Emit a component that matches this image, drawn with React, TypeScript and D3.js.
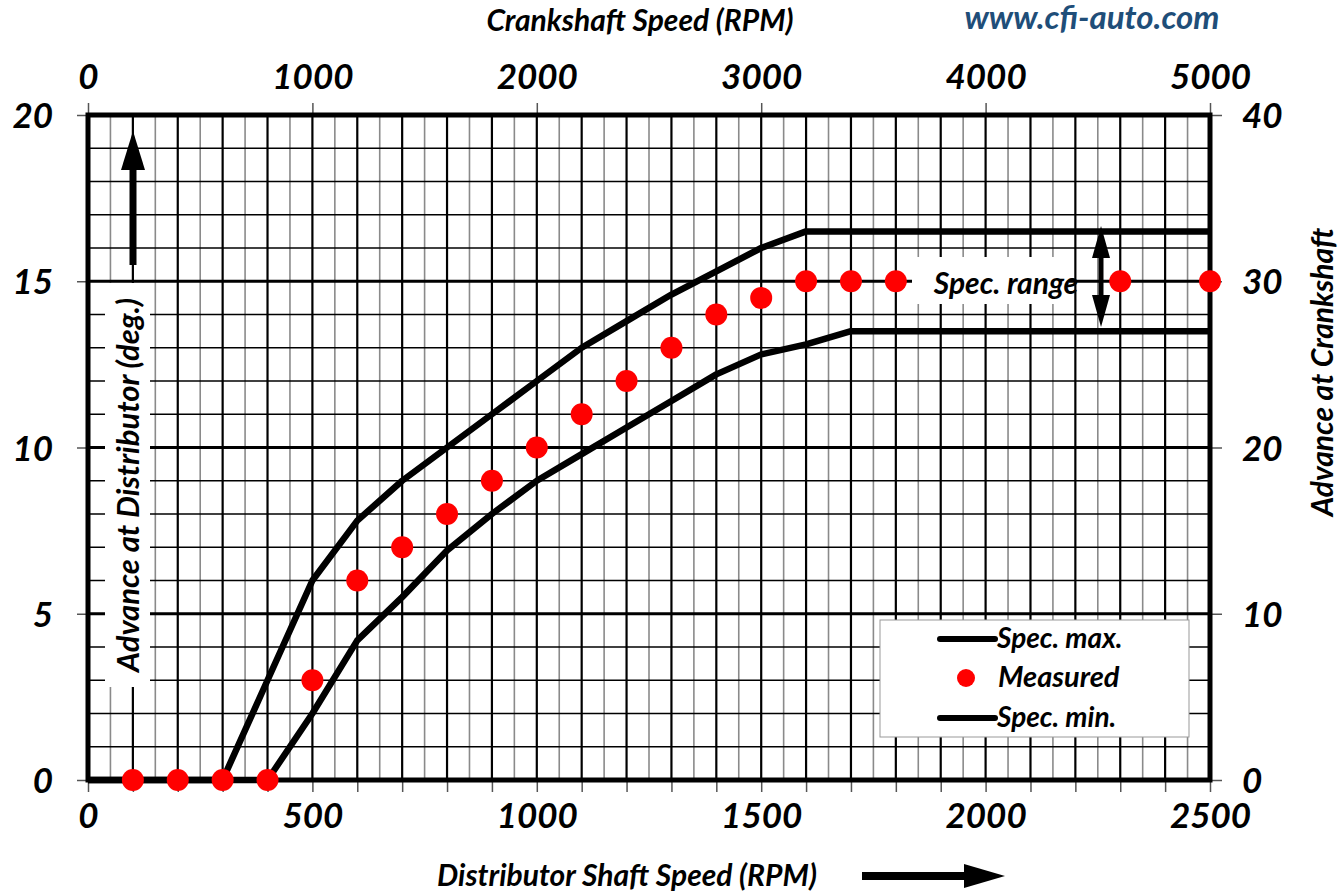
import { useRef, useEffect } from "react";
import * as d3 from "d3";

// distributor rpm vs advance (deg at distributor)
const specMaxRpm = [0, 300, 400, 500, 600, 700, 800, 900, 1000, 1100, 1200, 1300, 1400, 1500, 1600, 2500];
const specMaxDeg = [0, 0, 3, 6, 7.8, 9, 10, 11, 12, 13, 13.8, 14.6, 15.3, 16, 16.5, 16.5];
const specMinRpm = [0, 400, 500, 600, 700, 800, 900, 1000, 1100, 1200, 1300, 1400, 1500, 1600, 1700, 2500];
const specMinDeg = [0, 0, 2, 4.2, 5.5, 6.9, 8, 9, 9.8, 10.6, 11.4, 12.2, 12.8, 13.1, 13.5, 13.5];
const measuredRpm = [100, 200, 300, 400, 500, 600, 700, 800, 900, 1000, 1100, 1200, 1300, 1400, 1500, 1600, 1700, 1800, 2300, 2500];
const measuredDeg = [0, 0, 0, 0, 3, 6, 7, 8, 9, 10, 11, 12, 13, 14, 14.5, 15, 15, 15, 15, 15];

const distTicks = [0, 500, 1000, 1500, 2000, 2500];
const crankTicks = [0, 1000, 2000, 3000, 4000, 5000];
const distAdvTicks = [0, 5, 10, 15, 20];
const crankAdvTicks = [0, 10, 20, 30, 40];

const FONT = "Lato, 'Open Sans', sans-serif";
const W = 1339;
const H = 894;
const MARGIN = { top: 115, right: 129, bottom: 114, left: 88 };

export default function App() {
  const bottomRef = useRef(null);
  const topRef = useRef(null);
  const leftRef = useRef(null);
  const rightRef = useRef(null);

  const x = d3.scaleLinear().domain([0, 2500]).range([MARGIN.left, W - MARGIN.right]);
  const xc = d3.scaleLinear().domain([0, 5000]).range([MARGIN.left, W - MARGIN.right]);
  const y = d3.scaleLinear().domain([0, 20]).range([H - MARGIN.bottom, MARGIN.top]);
  const yc = d3.scaleLinear().domain([0, 40]).range([H - MARGIN.bottom, MARGIN.top]);

  const x0 = x(0), x1 = x(2500), y0 = y(0), y1 = y(20);

  useEffect(() => {
    const style = (g: any) => {
      g.select(".domain").remove();
      g.selectAll(".tick line").attr("stroke", "#555").attr("stroke-width", 1.5);
      g.selectAll("text")
        .attr("font-family", FONT)
        .attr("font-weight", "bold")
        .attr("font-style", "italic")
        .attr("font-size", 35)
        .attr("fill", "#000");
    };

    const b = d3.select(bottomRef.current);
    b.selectAll("*").remove();
    b.call(
      d3.axisBottom(x)
        .tickValues(d3.range(0, 2501, 100))
        .tickSize(12)
        .tickFormat((d: any) => (distTicks.includes(+d) ? String(d) : ""))
    ).call(style);
    b.selectAll("text").attr("y", 48).attr("dy", 0);

    const t = d3.select(topRef.current);
    t.selectAll("*").remove();
    t.call(d3.axisTop(xc).tickValues(crankTicks).tickSize(12).tickFormat((d: any) => String(d))).call(style);
    t.selectAll("text").attr("y", -26).attr("dy", 0);

    const l = d3.select(leftRef.current);
    l.selectAll("*").remove();
    l.call(d3.axisLeft(y).tickValues(distAdvTicks).tickSize(11)).call(style);
    l.selectAll("text").attr("x", -35).attr("dy", "0.36em");

    const r = d3.select(rightRef.current);
    r.selectAll("*").remove();
    r.call(d3.axisRight(yc).tickValues(crankAdvTicks).tickSize(12)).call(style);
    r.selectAll("text").attr("x", 32).attr("dy", "0.36em");
  }, [x, xc, y, yc]);

  const line = d3
    .line<[number, number]>()
    .x((d) => x(d[0]))
    .y((d) => y(d[1]));

  const specMax = specMaxRpm.map((r, i) => [r, specMaxDeg[i]] as [number, number]);
  const specMin = specMinRpm.map((r, i) => [r, specMinDeg[i]] as [number, number]);

  const vGrid = d3.range(50, 2500, 50);
  const hGrid = d3.range(1, 20, 1);

  const txt = { fontFamily: FONT, fontWeight: "bold" as const, fontStyle: "italic" as const };

  return (
    <div style={{ position: "absolute", left: 0, top: 0, background: "#fff" }}>
      <svg width={W} height={H} viewBox={`0 0 ${W} ${H}`}>
        <rect width={W} height={H} fill="#fff" />

        {/* grid */}
        {vGrid.map((v) => (
          <line
            key={"v" + v}
            x1={x(v)}
            x2={x(v)}
            y1={y1}
            y2={y0}
            stroke={v % 100 === 0 ? "#000" : "#8a8a8a"}
            strokeWidth={v % 100 === 0 ? 2.2 : 1.6}
          />
        ))}
        {hGrid.map((v) => (
          <line
            key={"h" + v}
            x1={x0}
            x2={x1}
            y1={y(v)}
            y2={y(v)}
            stroke="#000"
            strokeWidth={v % 5 === 0 ? 3 : 1.5}
          />
        ))}

        {/* white label boxes */}
        <rect x={105} y={283} width={45} height={404} fill="#fff" />
        <rect x={912} y={257} width={157} height={47} fill="#fff" />

        {/* axes */}
        <g ref={bottomRef} transform={`translate(0,${y0})`} />
        <g ref={topRef} transform={`translate(0,${y1})`} />
        <g ref={leftRef} transform={`translate(${x0},0)`} />
        <g ref={rightRef} transform={`translate(${x1},0)`} />

        {/* frame */}
        <rect x={x0} y={y1} width={x1 - x0} height={y0 - y1} fill="none" stroke="#000" strokeWidth={5} />

        {/* spec lines */}
        <path d={line(specMax) || ""} fill="none" stroke="#000" strokeWidth={6.5} strokeLinejoin="round" />
        <path d={line(specMin) || ""} fill="none" stroke="#000" strokeWidth={6.5} strokeLinejoin="round" />

        {/* measured */}
        {measuredRpm.map((r, i) => (
          <circle key={"m" + r} cx={x(r)} cy={y(measuredDeg[i])} r={11} fill="#ff0000" />
        ))}

        {/* spec range annotation */}
        <text x={1006} y={294} textAnchor="middle" fontSize={30} {...txt}>
          Spec. range
        </text>
        <line x1={1101} x2={1101} y1={250} y2={302} stroke="#000" strokeWidth={5} />
        <path d="M1101,226 L1092,258 L1110,258 Z" fill="#000" />
        <path d="M1101,327 L1092,295 L1110,295 Z" fill="#000" />

        {/* y arrow */}
        <line x1={133} x2={133} y1={265} y2={165} stroke="#000" strokeWidth={7} />
        <path d="M133,131 L121,170 L145,170 Z" fill="#000" />

        {/* bottom arrow */}
        <line x1={862} x2={966} y1={876} y2={876} stroke="#000" strokeWidth={8} />
        <path d="M1005,876 L964,864 L964,888 Z" fill="#000" />

        {/* legend */}
        <rect x={880} y={620} width={309} height={117} fill="#fff" stroke="#999" strokeWidth={1} />
        <line x1={940} x2={995} y1={639} y2={639} stroke="#000" strokeWidth={6} strokeLinecap="round" />
        <text x={997} y={648} fontSize={28} {...txt}>Spec. max.</text>
        <circle cx={966} cy={678} r={9} fill="#ff0000" />
        <text x={998} y={687} fontSize={29} {...txt}>Measured</text>
        <line x1={940} x2={995} y1={718} y2={718} stroke="#000" strokeWidth={6} strokeLinecap="round" />
        <text x={997} y={727} fontSize={28} {...txt}>Spec. min.</text>

        {/* titles */}
        <text x={640} y={31} textAnchor="middle" fontSize={30} {...txt}>
          Crankshaft Speed (RPM)
        </text>
        <text x={627} y={886} textAnchor="middle" fontSize={30} {...txt}>
          Distributor Shaft Speed (RPM)
        </text>
        <text x={1092} y={29} textAnchor="middle" fontSize={33} fill="#1f4e79" {...txt}>
          www.cfi-auto.com
        </text>
        <text
          transform={`translate(139,485) rotate(-90)`}
          textAnchor="middle"
          fontSize={31}
          {...txt}
        >
          Advance at Distributor (deg.)
        </text>
        <text
          transform={`translate(1333,372) rotate(-90)`}
          textAnchor="middle"
          fontSize={30}
          {...txt}
        >
          Advance at Crankshaft
        </text>
      </svg>
    </div>
  );
}
